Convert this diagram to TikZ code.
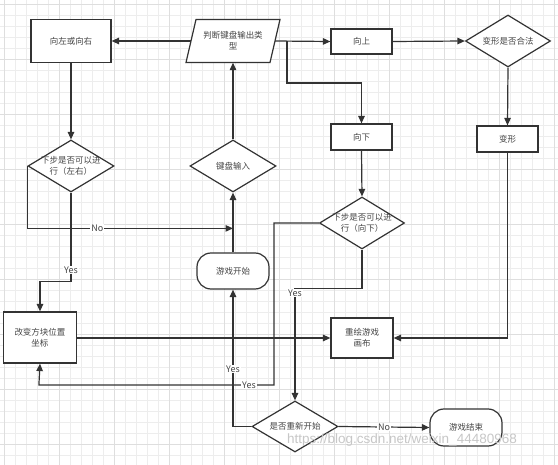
\documentclass[tikz,border=0pt]{standalone}
\usepackage{fontspec}
\setmainfont{Noto Sans CJK SC}
\newfontfamily\wmfont{Liberation Sans}
\usetikzlibrary{arrows.meta,shapes.geometric,calc}
\definecolor{ink}{HTML}{333333}
\definecolor{txt}{HTML}{444444}
\begin{document}
\begin{tikzpicture}[x=1pt,y=-1pt,
  base/.style={draw=ink,line width=1.2pt,fill=white,text=txt,font=\fontsize{8.5}{11}\selectfont,align=center,inner sep=0pt},
  box/.style={base,rectangle},
  term/.style={base,rectangle,rounded corners=14pt},
  dia/.style={base,diamond},
  dlabel/.style={text=txt,font=\fontsize{8.5}{11}\selectfont,align=center},
  arr/.style={draw=ink,line width=1.2pt,-{Triangle[length=7.5pt,width=6.5pt]}},
  lbl/.style={fill=white,text=txt,font=\fontsize{9}{10}\selectfont,inner sep=1pt},
  gminor/.style={draw=black!7,line width=0.5pt},
  gmajor/.style={draw=black!13,line width=0.6pt}]
\useasboundingbox (0,0) rectangle (558,465);
\fill[white] (0,0) rectangle (558,465);
% grid
\foreach \i in {0,...,51} {\draw[gminor] (\i*11+4,0) -- (\i*11+4,465);}
\foreach \i in {0,...,43} {\draw[gminor] (0,\i*11+4) -- (558,\i*11+4);}
\foreach \i in {0,...,10} {\draw[gmajor] (\i*55+4,0) -- (\i*55+4,465);}
\foreach \i in {0,...,8} {\draw[gmajor] (0,\i*55+4) -- (558,\i*55+4);}

% nodes
\node[box,minimum width=80pt,minimum height=43pt] (lr) at (71,41) {向左或向右};
\node[inner sep=0pt,minimum width=84pt,minimum height=43pt] (pj) at (233,41) {};
\draw[draw=ink,line width=1.2pt,fill=white] (196,19.5) -- (280,19.5) -- (270,62.5) -- (186,62.5) -- cycle;
\node[dlabel] at (pj.center) {判断键盘输出类\\型};
\node[box,minimum width=61pt,minimum height=25pt] (up) at (361.5,41.5) {向上};
\node[dia,minimum width=85pt,minimum height=52pt,label={[dlabel]center:变形是否合法}] (leg) at (508,41) {};
\node[box,minimum width=61pt,minimum height=26pt] (down) at (361.5,137) {向下};
\node[box,minimum width=61pt,minimum height=26pt] (tf) at (507.5,139) {变形};
\node[dia,minimum width=86pt,minimum height=52pt,label={[dlabel]center:下步是否可以进\\行（左右）}] (dlr) at (71,166) {};
\node[dia,minimum width=86pt,minimum height=52pt,label={[dlabel]center:键盘输入}] (kb) at (233,166) {};
\node[dia,minimum width=85pt,minimum height=52pt,label={[dlabel]center:下步是否可以进\\行（向下）}] (ddn) at (362,223) {};
\node[term,minimum width=72pt,minimum height=36pt] (start) at (233,271) {游戏开始};
\node[box,minimum width=73pt,minimum height=51pt] (chg) at (40,337.5) {改变方块位置\\坐标};
\node[box,minimum width=62pt,minimum height=40pt] (redraw) at (362,338) {重绘游戏\\画布};
\node[dia,minimum width=86pt,minimum height=51pt,label={[dlabel]center:是否重新开始}] (rs) at (295,426.5) {};
\node[term,minimum width=72pt,minimum height=37pt] (end) at (466,427.5) {游戏结束};

% connectors
\draw[arr] (pj.west) -- (lr.east);
\draw[arr] (pj.east) -- (up.west);
\coordinate (br) at (287,41);
\draw[arr] (br) -- ++(0,42) -| (down.north);
\draw[arr] (up.east) -- (leg.west);
\draw[arr] (leg.south) -- (tf.north);
\draw[arr] (lr.south) -- (dlr.north);
\draw[arr] (kb.north) -- (pj.south);
\draw[arr] (down.south) -- (ddn.north);
\draw[arr] (dlr.west) |- node[lbl,pos=0.67]{No} ($(start.north)+(0,-24)$);
\draw[arr] (start.north) -- (kb.south);
\draw[arr] (dlr.south) -- node[lbl,pos=0.87]{Yes} ++(0,89) -| (chg.north);
\draw[arr] (chg.east |- redraw.west) -- (redraw.west);
\draw[arr] (tf.south) |- (redraw.east);
\draw[arr] (ddn.west) -- ++(-45,0) -- ++(0,162) -- node[lbl,pos=0.106]{Yes} ++(-235,0) -- (chg.south);
\draw[arr] (ddn.south) -- ++(0,39) -| node[lbl,pos=0.52]{Yes} (rs.north);
\draw[arr] (rs.west) -| node[lbl,pos=0.71]{Yes} (start.south);
\draw[arr] (rs.east) -- node[lbl]{No} (end.west);

% watermark
\node[text=black!22,font=\wmfont\fontsize{13.5}{14}\selectfont] (wm) at (402,440) {https://blog.csdn.net/weixin\_44480968};
\end{tikzpicture}
\end{document}
